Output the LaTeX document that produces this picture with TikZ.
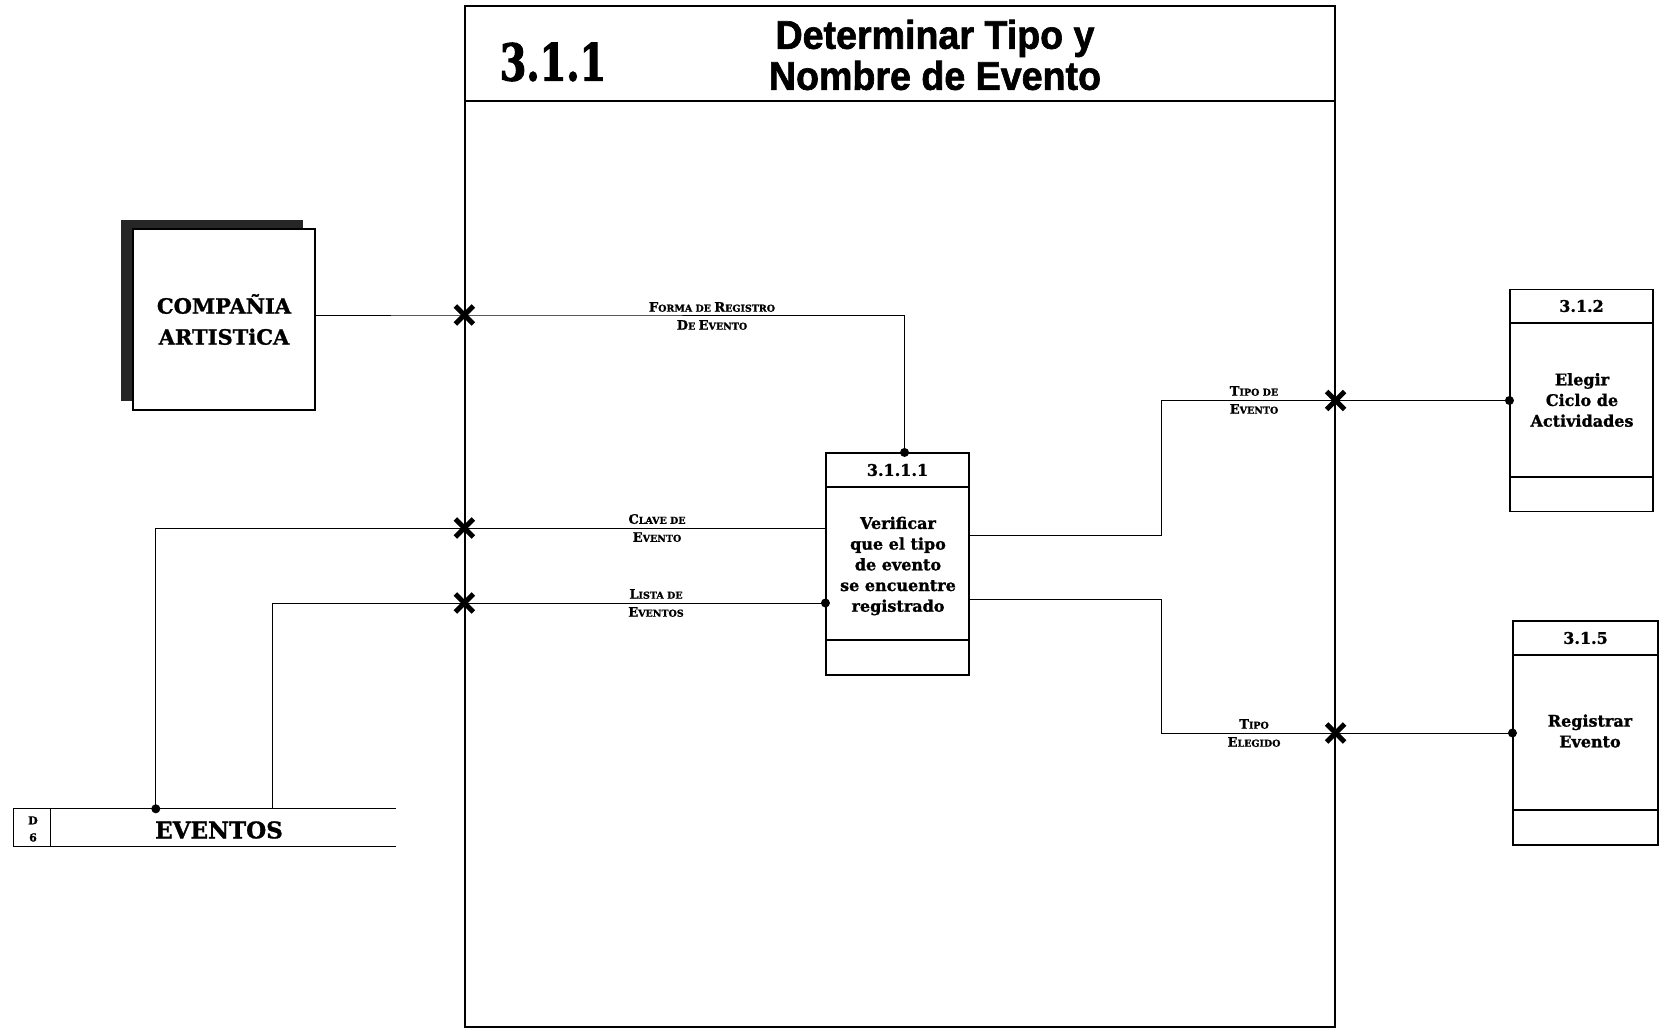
\documentclass[tikz,border=0pt]{standalone}
\usepackage{fontspec}
\setmainfont{DejaVu Serif}[BoldFeatures={FakeBold=1.2}]
\newfontfamily\headfont[FakeStretch=0.94, BoldFeatures={FakeBold=1.6}]{Liberation Sans}
\newfontfamily\numfont[FakeStretch=0.75, BoldFeatures={FakeBold=2}]{DejaVu Serif}
\usetikzlibrary{positioning,shadows}

% fake small caps: big first letter, small rest
\newcommand{\smcp}[2]{{\fontsize{13}{18}\selectfont #1}{\fontsize{9.5}{18}\selectfont #2}}

\tikzset{
  box/.style={draw, line width=1.1pt, inner sep=0pt},
  proc/.style={box, minimum width=143pt, minimum height=222pt},
  flow/.style={line width=1pt},
  lbl/.style={font=\bfseries\fontsize{9.5}{18}\selectfont, align=center, inner sep=0pt},
  ptxt/.style={font=\bfseries\fontsize{16}{20.7}\selectfont, align=center, inner sep=0pt},
  dot/.style={circle, fill, inner sep=0pt, minimum size=9pt},
  xmark/.pic={\draw[line width=5pt] (-9,-9)--(9,9) (-9,9)--(9,-9);}
}

\begin{document}
\begin{tikzpicture}[x=1pt,y=-1pt]
\useasboundingbox (0,0) rectangle (1665,1033);
% main process frame
\node[box, minimum width=870pt, minimum height=1021pt] (main) at (900,516.5) {};
\draw[box] (main.west |- 0,101) -- (main.east |- 0,101);
\node[font=\numfont\bfseries\fontsize{51}{51}\selectfont] (num) at (553,62) {3.1.1};
\node[font=\headfont\bfseries\fontsize{40}{41}\selectfont, align=center] (title) at (935,55) {Determinar Tipo y\\Nombre de Evento};

% external entity
\node[box, fill=white, minimum width=182pt, minimum height=181pt,
  general shadow={fill=black!85, shadow xshift=-12pt, shadow yshift=9pt},
  font=\bfseries\fontsize{21}{31}\selectfont, align=center] (cia) at (224,319.5) {COMPAÑIA\\ARTISTiCA};

% data store
\node[minimum width=382pt, minimum height=37pt, inner sep=0pt] (ev) at (205,827.5) {};
\draw[box] (ev.north east) -- (ev.north west) -- (ev.south west) -- (ev.south east);
\draw[box] ([xshift=37pt]ev.north west) -- ([xshift=37pt]ev.south west);
\node[font=\bfseries\fontsize{23}{23}\selectfont] (evname) at (219,830) {EVENTOS};
\node[font=\bfseries\fontsize{11}{17}\selectfont, align=center] (dnum) at (33,829) {D\\6};

% processes
\node[proc] (p1) at (897.5,564) {};
\draw[box] (p1.west |- 0,487) -- (p1.east |- 0,487) (p1.west |- 0,640) -- (p1.east |- 0,640);
\node[ptxt] (p1n) at (p1.north |- 0,470) {3.1.1.1};
\node[ptxt] (p1t) at (898,566) {Verificar\\que el tipo\\de evento\\se encuentre\\registrado};

\node[proc] (p2) at (1581.5,400.5) {};
\draw[box] (p2.west |- 0,323) -- (p2.east |- 0,323) (p2.west |- 0,477) -- (p2.east |- 0,477);
\node[ptxt] (p2n) at (p2.north |- 0,306) {3.1.2};
\node[ptxt] (p2t) at (1582,400) {Elegir\\Ciclo de\\Actividades};

\node[proc, minimum width=145pt, minimum height=224pt] (p3) at (1585.5,733) {};
\draw[box] (p3.west |- 0,655) -- (p3.east |- 0,655) (p3.west |- 0,810) -- (p3.east |- 0,810);
\node[ptxt] (p3n) at (p3.north |- 0,638) {3.1.5};
\node[ptxt] (p3t) at (1590,731) {Registrar\\Evento};

% flows
\coordinate (xa) at (main.west |- 0,315);
\coordinate (xb) at (main.west |- 0,528);
\coordinate (xc) at (main.west |- 0,603);
\draw[flow] (cia.east |- xa) -- (xa) -| ([xshift=7pt]p1.north);
\draw[flow] (p1.west |- xb) -| ([xshift=142pt]ev.north west);
\draw[flow] ([xshift=259pt]ev.north west) |- (p1.west |- xc);
\draw[flow] (p1.east |- 0,535) -| (1161,467) |- (p2.west);
\draw[flow] (p1.east |- 0,599) -| (1161,660) |- (p3.west);

\node[dot] (d1) at ([xshift=7pt]p1.north) {};
\node[dot] (d2) at ([xshift=142pt]ev.north west) {};
\node[dot] (d3) at (p1.west |- xc) {};
\node[dot] (d4) at (p2.west) {};
\node[dot] (d5) at (p3.west) {};

\pic at (xa) {xmark};
\pic at (xb) {xmark};
\pic at (xc) {xmark};
\pic at (main.east |- p2.west) {xmark};
\pic at (main.east |- p3.west) {xmark};

\node[lbl] (lforma) at (712,316) {\smcp{F}{ORMA DE }\smcp{R}{EGISTRO}\\\smcp{D}{E }\smcp{E}{VENTO}};
\node[lbl] (lclave) at (657,528) {\smcp{C}{LAVE DE}\\\smcp{E}{VENTO}};
\node[lbl] (llista) at (656,603) {\smcp{L}{ISTA DE}\\\smcp{E}{VENTOS}};
\node[lbl] (ltipo) at (1254,400) {\smcp{T}{IPO DE}\\\smcp{E}{VENTO}};
\node[lbl] (lelegido) at (1254,733) {\smcp{T}{IPO}\\\smcp{E}{LEGIDO}};
\end{tikzpicture}
\end{document}
